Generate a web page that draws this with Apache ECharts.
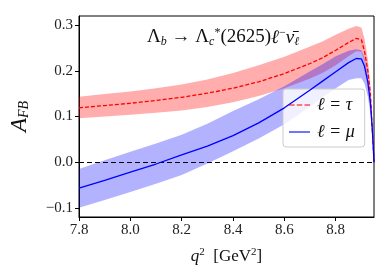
<!DOCTYPE html>
<html>
<head>
<meta charset="utf-8">
<script src="https://cdn.jsdelivr.net/npm/echarts@6/dist/echarts.min.js"></script>
<style>html,body{margin:0;padding:0;background:#fff}#c{width:390px;height:273px}</style>
</head>
<body>
<div id="c"></div>
<script>
// ---- data ----
var q2 = [7.80, 7.90, 8.00, 8.10, 8.20, 8.30, 8.40, 8.50, 8.60, 8.70, 8.75, 8.80, 8.85, 8.88, 8.90, 8.912, 8.925, 8.935, 8.942, 8.946, 8.949];
var tauCentral = [0.119, 0.124, 0.129, 0.135, 0.142, 0.151, 0.162, 0.176, 0.194, 0.216, 0.229, 0.245, 0.262, 0.271, 0.268, 0.243, 0.200, 0.150, 0.075, 0.035, 0.0];
var tauLow     = [0.096, 0.100, 0.104, 0.108, 0.113, 0.121, 0.131, 0.145, 0.162, 0.183, 0.196, 0.212, 0.232, 0.243, 0.242, 0.220, 0.182, 0.137, 0.068, 0.032, 0.0];
var tauHigh    = [0.143, 0.149, 0.155, 0.162, 0.170, 0.181, 0.195, 0.212, 0.231, 0.253, 0.265, 0.279, 0.292, 0.298, 0.295, 0.270, 0.225, 0.168, 0.085, 0.040, 0.0];
var muCentral  = [-0.057, -0.040, -0.022, -0.004, 0.016, 0.035, 0.058, 0.086, 0.119, 0.158, 0.178, 0.198, 0.218, 0.227, 0.226, 0.210, 0.175, 0.130, 0.075, 0.035, 0.0];
var muLow      = [-0.100, -0.083, -0.065, -0.047, -0.028, -0.003, 0.024, 0.052, 0.083, 0.122, 0.142, 0.162, 0.180, 0.184, 0.184, 0.172, 0.144, 0.107, 0.062, 0.029, 0.0];
var muHigh     = [-0.015, 0.004, 0.023, 0.041, 0.060, 0.084, 0.112, 0.138, 0.166, 0.199, 0.215, 0.232, 0.244, 0.247, 0.245, 0.228, 0.190, 0.142, 0.082, 0.038, 0.0];
var xTicks = [7.8, 8.0, 8.2, 8.4, 8.6, 8.8];
var yTicks = [-0.1, 0.0, 0.1, 0.2, 0.3];
var labelTau = 'ℓ = τ';
var labelMu = 'ℓ = μ';

function pairs(ys) { return q2.map(function (x, i) { return [x, ys[i]]; }); }
function bandRows(lo, hi) { return q2.map(function (x, i) { return [x, lo[i], hi[i]]; }); }

function bandSeries(name, lo, hi, color, z) {
  return {
    name: name, type: 'custom', silent: true, z: z, clip: true,
    data: bandRows(lo, hi),
    encode: {x: 0, y: [1, 2]},
    renderItem: function (params, api) {
      if (params.dataIndex !== 0) return null;
      var top = [], bot = [];
      for (var i = 0; i < q2.length; i++) {
        top.push(api.coord([q2[i], hi[i]]));
        bot.push(api.coord([q2[i], lo[i]]));
      }
      var pts = top.concat(bot.reverse());
      return {type: 'polygon', shape: {points: pts}, style: {fill: color, stroke: null}};
    }
  };
}

var serif = 'Liberation Serif';
var chart = echarts.init(document.getElementById('c'), null, {renderer: 'canvas'});
chart.setOption({
  animation: false,
  backgroundColor: '#fff',
  grid: {left: 78, right: 16, top: 16, bottom: 56, show: true, borderColor: '#000', borderWidth: 1, backgroundColor: 'transparent'},
  xAxis: {
    type: 'value', min: 7.8, max: 8.949,
    axisLine: {show: true, onZero: false, lineStyle: {color: '#000', width: 1}},
    splitLine: {show: false},
    axisTick: {show: true, length: 4, lineStyle: {color: '#000'}, customValues: xTicks},
    axisLabel: {color: '#222', fontFamily: serif, fontSize: 15, margin: 6, customValues: xTicks,
      formatter: function (v) { return v.toFixed(1); }},
    name: '{i|q}{s|2}{n|  [GeV}{s|2}{n|]}',
    nameLocation: 'middle', nameGap: 30,
    nameTextStyle: {rich: {
      i: {fontFamily: serif, fontStyle: 'italic', fontSize: 17, color: '#111'},
      n: {fontFamily: serif, fontSize: 17, color: '#111'},
      s: {fontFamily: serif, fontSize: 11, color: '#111', verticalAlign: 'top', padding: [0, 0, 9, 0]}
    }}
  },
  yAxis: {
    type: 'value', min: -0.12, max: 0.32,
    axisLine: {show: true, onZero: false, lineStyle: {color: '#000', width: 1}},
    splitLine: {show: false},
    axisTick: {show: true, length: 4, lineStyle: {color: '#000'}, customValues: yTicks},
    axisLabel: {color: '#222', fontFamily: serif, fontSize: 15, margin: 6, customValues: yTicks,
      formatter: function (v) { return (v < -1e-9 ? '\u2212' : '') + Math.abs(v).toFixed(1); }},
    name: '{a|A}{s|FB}',
    nameLocation: 'middle', nameGap: 48, nameRotate: 90,
    nameTextStyle: {rich: {
      a: {fontFamily: serif, fontStyle: 'italic', fontSize: 23, color: '#111'},
      s: {fontFamily: serif, fontStyle: 'italic', fontSize: 14, color: '#111', verticalAlign: 'bottom', padding: [7, 0, 0, 0]}
    }}
  },
  legend: {
    data: [
      {name: labelTau, icon: 'path://M0,0h5v1h-5zM7,0h5v1h-5zM14,0h5v1h-5z'},
      {name: labelMu, icon: 'path://M0,0h19v1h-19z'}
    ],
    orient: 'vertical', left: 283, top: 89,
    padding: [7, 10, 6, 6], itemGap: 9, itemWidth: 21, itemHeight: 1.6,
    backgroundColor: 'rgba(255,255,255,0.8)', borderColor: '#cccccc', borderWidth: 1, borderRadius: 3,
    textStyle: {fontFamily: serif, fontStyle: 'italic', fontSize: 18, color: '#111', padding: [0, 0, 0, 2]}
  },
  graphic: [{
    type: 'text', left: 147, top: 27,
    style: {
      text: 'Λ{sb|b} → Λ{sb|c}{sp|*}(2625){it|ℓ}{sp|−}{it|ν̄}{sb|ℓ}',
      fontFamily: serif, fontSize: 19, fill: '#111',
      rich: {
        sb: {fontFamily: serif, fontStyle: 'italic', fontSize: 12, verticalAlign: 'bottom', padding: [7, 0, 0, 0], color: '#111'},
        sp: {fontFamily: serif, fontSize: 12, verticalAlign: 'top', padding: [0, 0, 9, 0], color: '#111'},
        it: {fontFamily: serif, fontStyle: 'italic', fontSize: 19, color: '#111'}
      }
    }
  }],
  series: [
    bandSeries('tauBand', tauLow, tauHigh, 'rgba(255,0,0,0.32)', 1),
    bandSeries('muBand', muLow, muHigh, 'rgba(0,0,255,0.30)', 2),
    {name: labelTau, type: 'line', data: pairs(tauCentral), symbol: 'none', z: 4,
      lineStyle: {color: '#ff0000', width: 1.3, type: [4, 2]}, itemStyle: {color: '#ff0000'},
      markLine: {silent: true, symbol: 'none', label: {show: false},
        lineStyle: {color: '#000', width: 1.2, type: [5, 3]}, data: [{yAxis: 0}]}},
    {name: labelMu, type: 'line', data: pairs(muCentral), symbol: 'none', z: 5,
      lineStyle: {color: '#0000ff', width: 1.3}, itemStyle: {color: '#0000ff'}}
  ]
});
</script>
</body>
</html>
